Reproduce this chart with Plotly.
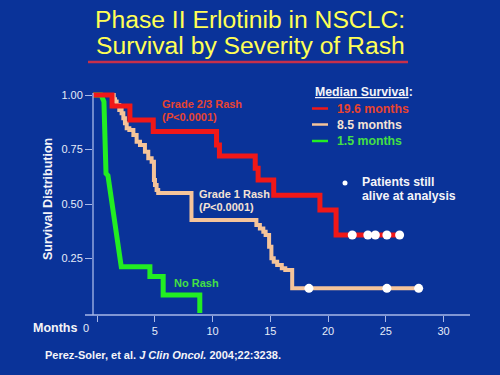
import plotly.graph_objects as go

# ---------------- data ----------------
months_ticks = [0, 5, 10, 15, 20, 25, 30]
month_labels = ["", "5", "10", "15", "20", "25", "30"]
surv_ticks = [0.25, 0.50, 0.75, 1.00]
surv_labels = ["0.25", "0.50", "0.75", "1.00"]

# Grade 2/3 rash (step curve, value changes at t)
red_t = [-0.4, 1.3, 2.85, 4.87, 10.35, 10.6, 13.7, 13.95, 15.3, 19.3, 20.7, 26.3]
red_s = [1.0, 0.95, 0.885, 0.832, 0.771, 0.72, 0.664, 0.61, 0.54, 0.472, 0.358, 0.358]
red_cens_t = [22.1, 23.45, 24.1, 25.1, 26.2]
red_cens_s = [0.358, 0.358, 0.358, 0.358, 0.358]

# Grade 1 rash (step curve)
peach_t = [-0.4, 1.45, 1.56, 1.7, 1.93, 2.13, 2.28, 2.42, 2.57, 2.8, 3.15, 3.43, 3.72,
           4.15, 4.44, 4.73, 4.93, 5.02, 5.16, 5.3, 8.18, 13.8, 14.1, 14.4, 14.6, 14.9,
           15.1, 15.3, 15.6, 16.0, 16.3, 16.9, 27.9]
peach_s = [1.0, 0.98, 0.97, 0.954, 0.931, 0.916, 0.893, 0.87, 0.847, 0.839, 0.817, 0.786, 0.771,
           0.74, 0.71, 0.694, 0.61, 0.587, 0.564, 0.55, 0.427, 0.404, 0.388, 0.373, 0.358, 0.304,
           0.251, 0.235, 0.22, 0.205, 0.197, 0.113, 0.113]
peach_cens_t = [18.35, 25.1, 27.85]
peach_cens_s = [0.113, 0.113, 0.113]

# No rash (vertices of the drawn curve)
green_t = [-0.4, 0.35, 0.6, 0.78, 0.95, 2.1, 4.58, 4.58, 5.73, 5.73, 8.9, 8.9]
green_s = [1.0, 1.0, 0.97, 0.64, 0.63, 0.212, 0.212, 0.167, 0.167, 0.083, 0.083, 0.0]

# ---------------- styling ----------------
BG = "#0A3399"
RED = "#F01818"
PEACH = "#F5C49A"
GREEN = "#22EE22"
RED_TXT = "#E8432F"
PEACH_TXT = "#F4E2D4"
GREEN_TXT = "#44E044"
WHITE = "#F4F4F8"
AXIS = "#A8B8E8"
FONT = "Arial, Liberation Sans, sans-serif"

W, H = 500, 375
L, R, T, B = 93, 470, 88, 315  # plot area in pixels


def px(x):
    return (x - L) / (R - L)


def py(y):
    return (B - y) / (B - T)


fig = go.Figure()
fig.add_trace(go.Scatter(x=peach_t, y=peach_s, mode="lines", line=dict(color=PEACH, width=4, shape="hv"),
                         hoverinfo="skip"))
fig.add_trace(go.Scatter(x=green_t, y=green_s, mode="lines", line=dict(color=GREEN, width=5),
                         hoverinfo="skip"))
fig.add_trace(go.Scatter(x=red_t, y=red_s, mode="lines", line=dict(color=RED, width=5, shape="hv"),
                         hoverinfo="skip"))
fig.add_trace(go.Scatter(x=red_cens_t + peach_cens_t, y=red_cens_s + peach_cens_s, mode="markers",
                         marker=dict(color="white", size=9, line=dict(width=0)), hoverinfo="skip"))

annotations = []


def txt(text, x, y, size, color, xanchor="left", angle=0):
    annotations.append(dict(text=text, x=px(x), y=py(y), xref="paper", yref="paper",
                            xanchor=xanchor, yanchor="middle", showarrow=False, textangle=angle,
                            font=dict(family=FONT, size=size, color=color)))


# title
txt("Phase II Erlotinib in NSCLC:", 250, 19.5, 24.7, "#FFFF55", xanchor="center")
txt("Survival by Severity of Rash", 250, 46, 24.7, "#FFFF55", xanchor="center")

# axis titles & citation
txt("<b>Survival Distribution</b>", 48, 199, 12.5, WHITE, xanchor="center", angle=-90)
txt("<b>Months</b>", 79, 328, 12.5, WHITE, xanchor="right")
txt("0", 86, 328, 11, "#E6ECF8", xanchor="center")
txt("<b>Perez-Soler, et al. <i>J Clin Oncol.</i> 2004;22:3238.</b>", 43, 355, 11, WHITE)

# curve labels
txt("<b>Grade 2/3 Rash</b>", 160, 104, 11, RED_TXT)
txt("<b>(<i>P</i>&lt;0.0001)</b>", 160, 117, 11, RED_TXT)
txt("<b>Grade 1 Rash</b>", 197, 194, 11, PEACH_TXT)
txt("<b>(<i>P</i>&lt;0.0001)</b>", 197, 207, 11, PEACH_TXT)
txt("<b>No Rash</b>", 172, 283, 11, GREEN_TXT)

# legend
txt("<b><span style='text-decoration:underline'>Median Survival</span>:</b>", 313, 92, 12.3, WHITE)
txt("<b>19.6 months</b>", 335, 108.5, 12.3, RED_TXT)
txt("<b>8.5 months</b>", 335, 124.5, 12.3, PEACH_TXT)
txt("<b>1.5 months</b>", 335, 141, 12.3, GREEN_TXT)
txt("<b>Patients still</b>", 360, 182, 12.3, WHITE)
txt("<b>alive at analysis</b>", 360, 195.5, 12.3, WHITE)

shapes = [
    # title underline
    dict(type="line", xref="paper", yref="paper", x0=px(88), x1=px(408), y0=py(62), y1=py(62),
         line=dict(color="#C8304A", width=2.5)),
    # legend line samples
    dict(type="line", xref="paper", yref="paper", x0=px(312), x1=px(328), y0=py(108.5), y1=py(108.5),
         line=dict(color=RED, width=2.5)),
    dict(type="line", xref="paper", yref="paper", x0=px(312), x1=px(328), y0=py(124.5), y1=py(124.5),
         line=dict(color=PEACH, width=2.5)),
    dict(type="line", xref="paper", yref="paper", x0=px(312), x1=px(328), y0=py(141), y1=py(141),
         line=dict(color=GREEN, width=2.5)),
    # bullet
    dict(type="circle", xref="paper", yref="paper", x0=px(342.5), x1=px(347.5), y0=py(180.5), y1=py(185.5),
         fillcolor="white", line=dict(width=0)),
    # axis lines
    dict(type="line", xref="paper", yref="paper", x0=px(85), x1=1, y0=0, y1=0,
         line=dict(color=AXIS, width=1.3)),
    dict(type="line", xref="paper", yref="paper", x0=0, x1=0, y0=0, y1=py(93),
         line=dict(color=AXIS, width=1.3)),
]

fig.update_layout(
    width=W, height=H,
    margin=dict(l=L, r=W - R, t=T, b=H - B, pad=0),
    paper_bgcolor=BG, plot_bgcolor=BG,
    showlegend=False,
    annotations=annotations,
    shapes=shapes,
    xaxis=dict(range=[(L - 97) / 11.55, (R - 97) / 11.55], showgrid=False, zeroline=False, showline=False,
               ticks="outside", ticklen=6, tickwidth=1, tickcolor=AXIS,
               tickvals=months_ticks, ticktext=month_labels,
               tickfont=dict(family=FONT, size=11, color="#E6ECF8")),
    yaxis=dict(range=[(313 - B) / 218, (313 - T) / 218], showgrid=False, zeroline=False, showline=False,
               ticks="outside", ticklen=7, tickwidth=1, tickcolor=AXIS,
               tickvals=surv_ticks, ticktext=surv_labels,
               tickfont=dict(family=FONT, size=11, color="#E6ECF8")),
)

fig.write_html("out.html", config={"displayModeBar": False},
               post_script="document.body.style.margin='0';document.body.style.background='" + BG + "';")
